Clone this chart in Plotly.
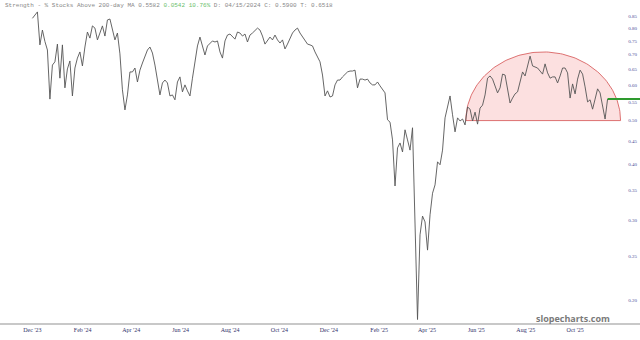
import numpy as np
import pandas as pd
import plotly.graph_objects as go

# ---- data ----
START_DATE = "2023-12-01"
END_DATE = "2025-11-10"
values = [
    0.843, 0.856, 0.871, 0.736, 0.794, 0.749, 0.717, 0.558, 0.664, 0.675,
    0.739, 0.621, 0.736, 0.591, 0.651, 0.678, 0.567, 0.654, 0.688, 0.710,
    0.661, 0.728, 0.786, 0.762, 0.811, 0.802, 0.755, 0.782, 0.811, 0.770,
    0.836, 0.840, 0.794, 0.755, 0.782, 0.703, 0.585, 0.528, 0.570, 0.641,
    0.641, 0.654, 0.609, 0.647, 0.671, 0.695, 0.717, 0.728, 0.706, 0.664,
    0.621, 0.570, 0.606, 0.615, 0.606, 0.567, 0.570, 0.556, 0.609, 0.625,
    0.579, 0.600, 0.582, 0.567, 0.621, 0.681, 0.732, 0.766, 0.736, 0.699,
    0.732, 0.743, 0.751, 0.747, 0.751, 0.710, 0.688, 0.751, 0.774, 0.778,
    0.766, 0.758, 0.786, 0.782, 0.770, 0.778, 0.747, 0.774, 0.782, 0.794,
    0.802, 0.794, 0.770, 0.739, 0.755, 0.766, 0.755, 0.774, 0.755, 0.743,
    0.755, 0.721, 0.739, 0.762, 0.782, 0.794, 0.802, 0.782, 0.766, 0.755,
    0.739, 0.736, 0.732, 0.710, 0.692, 0.675, 0.631, 0.567, 0.582, 0.564,
    0.567, 0.600, 0.615, 0.615, 0.625, 0.634, 0.641, 0.644, 0.644, 0.647,
    0.591, 0.618, 0.618, 0.615, 0.618, 0.606, 0.600, 0.600, 0.609, 0.597,
    0.585, 0.576, 0.502, 0.496, 0.453, 0.358, 0.435, 0.446, 0.426, 0.477,
    0.453, 0.430, 0.482, 0.301, 0.181, 0.279, 0.307, 0.298, 0.258, 0.309,
    0.345, 0.360, 0.405, 0.399, 0.430, 0.507, 0.533, 0.567, 0.515, 0.472,
    0.507, 0.499, 0.504, 0.489, 0.536, 0.530, 0.499, 0.522, 0.491, 0.533,
    0.541, 0.570, 0.621, 0.628, 0.618, 0.594, 0.576, 0.591, 0.634, 0.631,
    0.588, 0.547, 0.561, 0.573, 0.579, 0.609, 0.641, 0.628, 0.658, 0.695,
    0.661, 0.658, 0.654, 0.644, 0.634, 0.668, 0.638, 0.621, 0.625, 0.625,
    0.606, 0.628, 0.654, 0.654, 0.638, 0.561, 0.603, 0.573, 0.618, 0.647,
    0.634, 0.594, 0.550, 0.556, 0.530, 0.558, 0.588, 0.576, 0.533, 0.504,
    0.5582,
]
x_tick_dates = ["2023-12-01", "2024-02-01", "2024-04-01", "2024-06-01", "2024-08-01",
                "2024-10-01", "2024-12-01", "2025-02-01", "2025-04-01", "2025-06-01",
                "2025-08-01", "2025-10-01"]
x_tick_labels = ["Dec '23", "Feb '24", "Apr '24", "Jun '24", "Aug '24", "Oct '24",
                 "Dec '24", "Feb '25", "Apr '25", "Jun '25", "Aug '25", "Oct '25"]
y_tick_vals = [0.20, 0.25, 0.30, 0.35, 0.40, 0.45, 0.50, 0.55, 0.60, 0.65, 0.70, 0.75, 0.80, 0.85]
y_tick_labels = [f"{v:.2f}" for v in y_tick_vals]

# dome (rounded-top pattern) drawing
DOME_START = "2025-05-19"
DOME_END = "2025-11-26"
DOME_BASE = 0.50
DOME_TOP = 0.71

X_RANGE = ["2023-10-22", "2025-12-20"]
Y_RANGE = [0.1778, 0.9257]

dates = pd.date_range(START_DATE, END_DATE, periods=len(values))

fig = go.Figure()

# dome
d0 = pd.Timestamp(DOME_START)
d1 = pd.Timestamp(DOME_END)
center = d0 + (d1 - d0) / 2
half = (d1 - d0) / 2
t = np.linspace(0, np.pi, 120)
dx = [center + half * np.cos(a) for a in t]
dy = 10 ** (np.log10(DOME_BASE) + np.log10(DOME_TOP / DOME_BASE) * np.sin(t))
dx = list(dx) + [dx[0]]
dy = list(dy) + [dy[0]]
fig.add_trace(go.Scatter(x=dx, y=dy, mode="lines", fill="toself",
                         fillcolor="rgba(240,100,100,0.2)",
                         line=dict(color="rgba(215,90,90,0.85)", width=1),
                         hoverinfo="skip", showlegend=False))

# main series
fig.add_trace(go.Scatter(x=dates, y=values, mode="lines",
                         line=dict(color="#555555", width=0.9),
                         showlegend=False))

# green last-value line
fig.add_trace(go.Scatter(x=[dates[-1], pd.Timestamp(X_RANGE[1])],
                         y=[values[-1], values[-1]], mode="lines",
                         line=dict(color="#2e9a2e", width=2),
                         showlegend=False))

fig.update_layout(
    width=640, height=340,
    margin=dict(l=0, r=0, t=0, b=17),
    paper_bgcolor="white", plot_bgcolor="white",
    xaxis=dict(type="date", range=X_RANGE, showgrid=False, zeroline=False,
               showline=True, linecolor="#c8c8c8", linewidth=2,
               tickvals=x_tick_dates, ticktext=x_tick_labels, ticks="",
               tickfont=dict(family="Liberation Serif", size=6, color="#33336b")),
    yaxis=dict(type="log", range=[np.log10(Y_RANGE[0]), np.log10(Y_RANGE[1])],
               side="right", ticklabelposition="inside", showgrid=False,
               zeroline=False, showline=False, ticks="",
               tickvals=y_tick_vals, ticktext=y_tick_labels,
               tickfont=dict(family="Liberation Serif", size=5, color="#4d4d99")),
)

fig.add_annotation(
    xref="paper", yref="paper", x=0.004, y=1.0, xanchor="left", yanchor="top",
    showarrow=False,
    text=("Strength - % Stocks Above 200-day MA 0.5582 "
          "<span style='color:#6cc06c'>0.0542 10.76%</span> "
          "D: 04/15/2024 C: 0.5900 T: 0.6518"),
    font=dict(family="Liberation Mono", size=6, color="#888888"),
)
fig.add_annotation(
    xref="paper", yref="paper", x=0.895, y=0.015, xanchor="center", yanchor="middle",
    showarrow=False, text="<b>slopecharts.com</b>",
    font=dict(family="Open Sans", size=9, color="#7a7a7a"),
)

fig.write_html("out.html")
